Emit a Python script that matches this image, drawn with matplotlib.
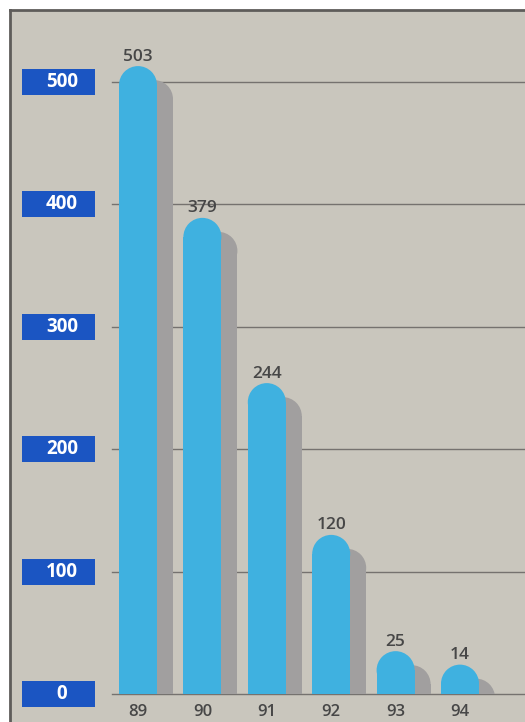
import matplotlib
matplotlib.use('Agg')
import matplotlib.pyplot as plt
import matplotlib.transforms as mtransforms
from matplotlib.patches import Rectangle, Ellipse
from matplotlib.lines import Line2D

# chart values
years = ['89', '90', '91', '92', '93', '94']
values = [503, 379, 244, 120, 25, 14]
tick_values = [0, 100, 200, 300, 400, 500]

BG = '#c9c6bd'
BLUE = '#3fb1e0'
SHADOW = '#a19f9f'
BOX = '#1b55c2'
TEXT = '#474747'
FONT = 'Open Sans'

W, H = 525, 722
fig = plt.figure(figsize=(W / 100, H / 100), dpi=100)
fig.patch.set_facecolor('white')

# beige panel with frame on top and left
fig.add_artist(Rectangle((10 / W, 0), 1 - 10 / W, 1 - 10 / H,
                         transform=fig.transFigure, facecolor=BG,
                         edgecolor='none', zorder=-10))
fig.add_artist(Line2D([10 / W, 1], [1 - 10 / H, 1 - 10 / H],
                      transform=fig.transFigure, color='#5e5c5a', lw=2))
fig.add_artist(Line2D([10 / W, 10 / W], [0, 1 - 10 / H],
                      transform=fig.transFigure, color='#5e5c5a', lw=2))

# plot area: value 0 at pixel row 694, 1.224 px per unit
px_per_unit = 1.224
y0 = 694
ax_left, ax_right = 112, W
ax_top = 12
ax = fig.add_axes([ax_left / W, (H - y0) / H,
                   (ax_right - ax_left) / W, (y0 - ax_top) / H])
ax.set_facecolor('none')
ax.set_ylim(0, (y0 - ax_top) / px_per_unit)
step = 64.4
first = 138
ax.set_xlim(-(first - ax_left) / step, (ax_right - first) / step)
for s in ax.spines.values():
    s.set_visible(False)
ax.set_xticks([])
ax.set_yticks([])

# grid lines
for v in tick_values:
    ax.axhline(v, color='#75726f', lw=1.0, zorder=0, clip_on=False)

bar_w = 38 / step
r = 19 / px_per_unit  # cap radius in data units
cap_extra = 10

shadow_tr = mtransforms.offset_copy(ax.transData, fig, x=16, y=-14, units='dots')

for i, v in enumerate(values):
    top = v + cap_extra
    for tr, col, z in [(shadow_tr, SHADOW, 1), (ax.transData, BLUE, 2)]:
        ax.add_patch(Rectangle((i - bar_w / 2, 0), bar_w, top - r,
                               facecolor=col, edgecolor='none',
                               transform=tr, zorder=z))
        ax.add_patch(Ellipse((i, top - r), bar_w, 2 * r,
                             facecolor=col, edgecolor='none',
                             transform=tr, zorder=z))
    ax.annotate(str(v), (i, top), xytext=(0, 1), textcoords='offset points',
                ha='center', va='bottom', fontsize=12.5, color=TEXT,
                family=FONT, fontweight='semibold', zorder=3)
    ax.annotate(years[i], (i, 0), xytext=(0, -13), textcoords='offset points',
                ha='center', va='center', fontsize=12, color=TEXT,
                family=FONT, fontweight='semibold', annotation_clip=False)

# blue value boxes on the left
blend = mtransforms.blended_transform_factory(fig.transFigure, ax.transData)
box_h = 26 / px_per_unit
for v in tick_values:
    ax.add_patch(Rectangle((22 / W, v - box_h / 2), 73 / W, box_h,
                           transform=blend, facecolor=BOX, edgecolor='none',
                           clip_on=False, zorder=3))
    ax.text(62 / W, v, str(v), transform=blend, ha='center', va='center',
            color='white', fontsize=13.5, fontweight='bold', family=FONT,
            clip_on=False, zorder=4)

fig.savefig('out.png', dpi=100)
